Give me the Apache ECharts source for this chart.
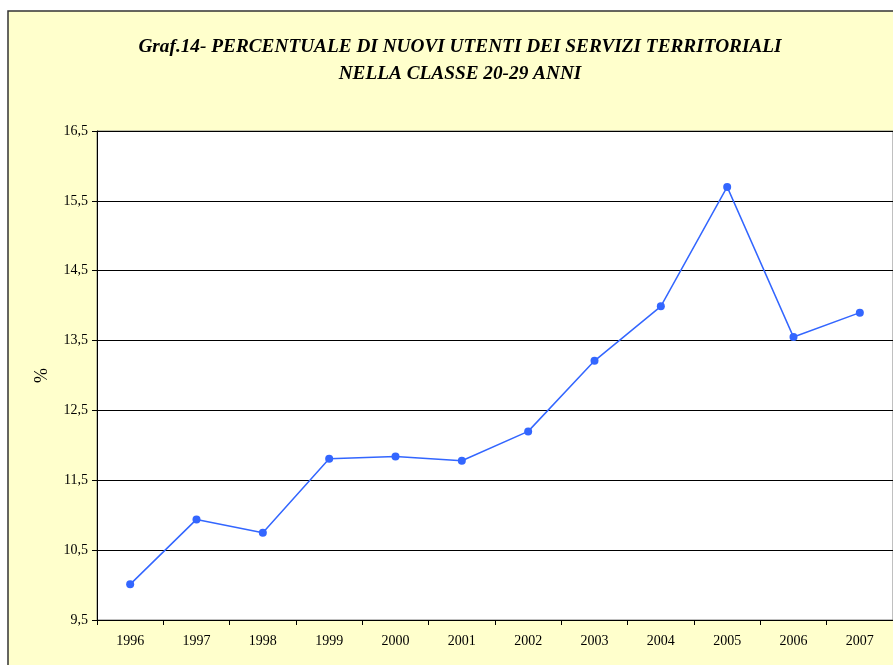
<!DOCTYPE html>
<html>
<head>
<meta charset="utf-8">
<script src="https://cdn.jsdelivr.net/npm/echarts@6/dist/echarts.min.js"></script>
<style>
  html, body { margin: 0; padding: 0; background: #fff; }
  #chart { width: 893px; height: 665px; }
</style>
</head>
<body>
<div id="chart"></div>
<script>
// anni
const years = ['1996', '1997', '1998', '1999', '2000', '2001', '2002', '2003', '2004', '2005', '2006', '2007'];
// percentuale nuovi utenti 20-29 anni
const percentuali = [10.01, 10.94, 10.75, 11.81, 11.84, 11.78, 12.2, 13.21, 13.99, 15.7, 13.55, 13.9];
// scala asse y
const yMin = 9.5;
const yMax = 16.5;
const yStep = 1;

const titolo = 'Graf.14- PERCENTUALE DI NUOVI UTENTI DEI SERVIZI TERRITORIALI\nNELLA CLASSE 20-29 ANNI';

const serif = '"Liberation Serif", "DejaVu Serif", serif';

const myChart = echarts.init(document.getElementById('chart'), null, { renderer: 'canvas' });

const option = {
  animation: false,
  backgroundColor: '#fff',
  graphic: [{
    type: 'rect',
    z: -10,
    shape: { x: 8, y: 11, width: 900, height: 700 },
    style: { fill: '#FFFFCC', stroke: '#333', lineWidth: 1.5 }
  }],
  title: {
    text: titolo,
    left: 455,
    top: 29,
    textAlign: 'center',
    textStyle: {
      fontFamily: serif,
      fontStyle: 'italic',
      fontWeight: 'bold',
      fontSize: 19.3,
      lineHeight: 27,
      color: '#000'
    }
  },
  grid: {
    left: 97,
    top: 131,
    width: 800,
    height: 489,
    show: true,
    backgroundColor: '#fff',
    borderColor: '#808080',
    borderWidth: 1
  },
  xAxis: {
    type: 'category',
    data: years,
    boundaryGap: true,
    axisLine: { lineStyle: { color: '#000', width: 1 } },
    axisTick: { show: true, length: 5, lineStyle: { color: '#000' } },
    axisLabel: { fontFamily: serif, fontSize: 14, color: '#000', margin: 14 }
  },
  yAxis: {
    type: 'value',
    min: yMin,
    max: yMax,
    interval: yStep,
    name: '%',
    nameLocation: 'middle',
    nameRotate: 90,
    nameGap: 46,
    nameTextStyle: { fontFamily: serif, fontSize: 18, color: '#000' },
    axisLine: { show: true, lineStyle: { color: '#000', width: 1 } },
    axisTick: { show: true, length: 5, lineStyle: { color: '#000' } },
    splitLine: { show: true, lineStyle: { color: '#000', width: 1 } },
    axisLabel: {
      fontFamily: serif,
      fontSize: 14,
      color: '#000',
      margin: 9,
      formatter: (v) => v.toFixed(1).replace('.', ',')
    }
  },
  series: [{
    type: 'line',
    data: percentuali,
    symbol: 'circle',
    symbolSize: 8,
    lineStyle: { color: '#3366FF', width: 1.5 },
    itemStyle: { color: '#3366FF' }
  }]
};

myChart.setOption(option);
</script>
</body>
</html>
